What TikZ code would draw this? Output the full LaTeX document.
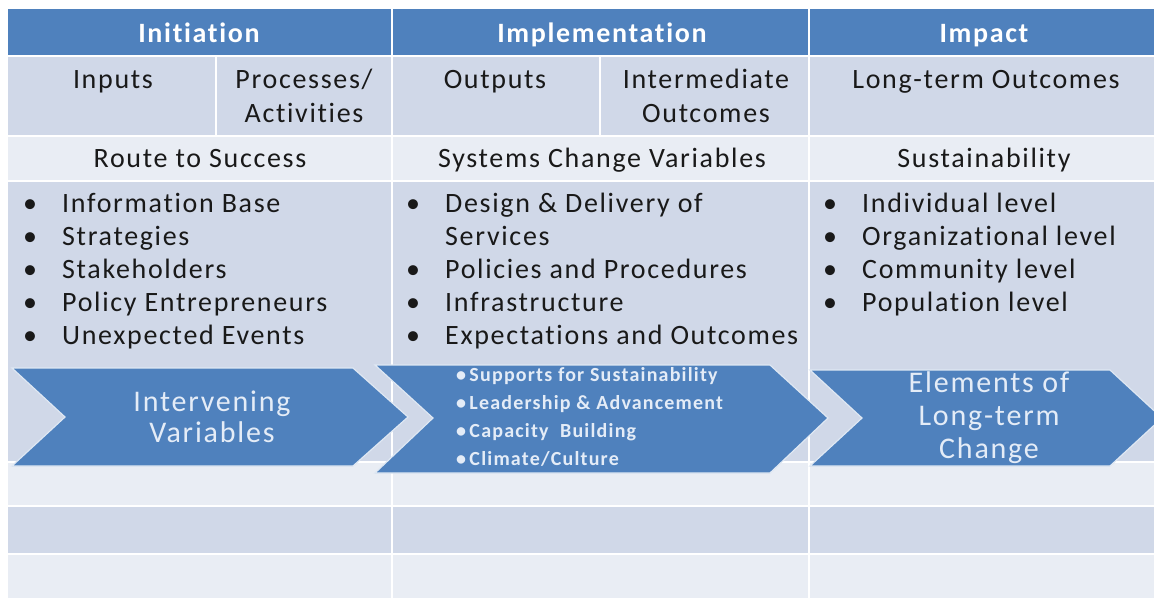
\documentclass[tikz,border=0pt]{standalone}
\usepackage{fontspec}
\setmainfont{Carlito}[LetterSpace=6,Ligatures=NoCommon]
\usepackage{tikz}
\usetikzlibrary{positioning}
\usepackage{xcolor}

\definecolor{hdrblue}{HTML}{4F81BD}
\definecolor{rowdark}{HTML}{D0D8E8}
\definecolor{rowlight}{HTML}{E9EDF4}
\definecolor{chevtext}{HTML}{E4ECF7}

\newcommand{\itm}{\makebox[39pt][l]{\textbullet}}
\newcommand{\cnt}{\hspace*{39pt}}

\tikzset{
  rule/.style={white, line width=2.5pt},
  hdr/.style={anchor=base, inner sep=0pt, text=white, font=\fontsize{28}{34}\selectfont\bfseries},
  cell/.style={anchor=base, inner sep=0pt, align=center, text=black!90, font=\fontsize{28}{34}\selectfont},
  itemlist/.style={anchor=base west, inner sep=0pt, align=left, text=black!90, font=\fontsize{28}{33}\selectfont},
  chev/.style={fill=hdrblue, draw=white!82!hdrblue, line width=1.2pt},
  chevlabel/.style={anchor=base, inner sep=0pt, align=center, text=chevtext},
  chevlist/.style={anchor=base west, inner sep=0pt, align=left, text=chevtext, font=\fontsize{20}{27.7}\selectfont\bfseries}
}

\begin{document}
\begin{tikzpicture}[x=1pt,y=-1pt]
\useasboundingbox (0,0) rectangle (1154,598);
\clip (0,0) rectangle (1154,598);
\fill[white] (0,0) rectangle (1154,598);

% rows of the table
\fill[hdrblue] (8,9) rectangle (1154,56);
\fill[rowdark] (8,56) rectangle (1154,136);
\fill[rowlight] (8,136) rectangle (1154,181);
\fill[rowdark] (8,181) rectangle (1154,462);
\fill[rowlight] (8,462) rectangle (1154,506);
\fill[rowdark] (8,506) rectangle (1154,554);
\fill[rowlight] (8,554) rectangle (1154,598);

\draw[rule] (8,56) -- (1154,56);
\draw[rule] (8,136) -- (1154,136);
\draw[rule] (8,181) -- (1154,181);
\draw[rule] (8,462) -- (1154,462);
\draw[rule] (8,506) -- (1154,506);
\draw[rule] (8,554) -- (1154,554);
\draw[rule] (392,9) -- (392,598);
\draw[rule] (809,9) -- (809,598);
\draw[rule] (216,56) -- (216,136);
\draw[rule] (600,56) -- (600,136);

% headers
\node[hdr] (init) at (199,42) {Initiation};
\node[hdr] (impl) at (602,42) {Implementation};
\node[hdr] (impact) at (984,42) {Impact};

% multi-line nodes sit on their last baseline
\node[cell] (inputs) at (113,88) {Inputs};
\node[cell] (process) at (304,122) {Processes/\\Activities};
\node[cell] (outputs) at (495,88) {Outputs};
\node[cell] (interm) at (706,122) {Intermediate\\Outcomes};
\node[cell] (longterm) at (986,88) {Long-term Outcomes};

\node[cell] (route) at (200,167) {Route to Success};
\node[cell] (systems) at (602,167) {Systems Change Variables};
\node[cell] (sustain) at (984,167) {Sustainability};

% bullet lists
\node[itemlist] (routelist) at (23,344) {\itm Information Base\\ \itm Strategies\\ \itm Stakeholders\\ \itm Policy Entrepreneurs\\ \itm Unexpected Events};
\node[itemlist] (syslist) at (406,344) {\itm Design \& Delivery of\\ \cnt Services\\ \itm Policies and Procedures\\ \itm Infrastructure\\ \itm Expectations and Outcomes};
\node[itemlist] (sustlist) at (823,311) {\itm Individual level\\ \itm Organizational level\\ \itm Community level\\ \itm Population level};

% chevrons
\filldraw[chev] (12,368) -- (353,368) -- (408,417) -- (353,466) -- (12,466) -- (65,417) -- cycle;
\filldraw[chev] (375,365) -- (770,365) -- (828,418) -- (770,473) -- (375,473) -- (433,418) -- cycle;
\filldraw[chev] (810,370) -- (1110,370) -- (1162,418) -- (1110,466) -- (810,466) -- (862,418) -- cycle;

\node[chevlabel, font=\fontsize{30}{31}\selectfont] (interv) at (212,442) {Intervening\\Variables};
\node[chevlist] (supports) at (456,465) {\textbullet\,Supports for Sustainability\\ \textbullet\,Leadership \& Advancement\\ \textbullet\,Capacity\ \ Building\\ \textbullet\,Climate/Culture};
\node[chevlabel, font=\fontsize{30}{33}\selectfont] (elements) at (989,458) {Elements of\\Long-term\\Change};

\end{tikzpicture}
\end{document}
